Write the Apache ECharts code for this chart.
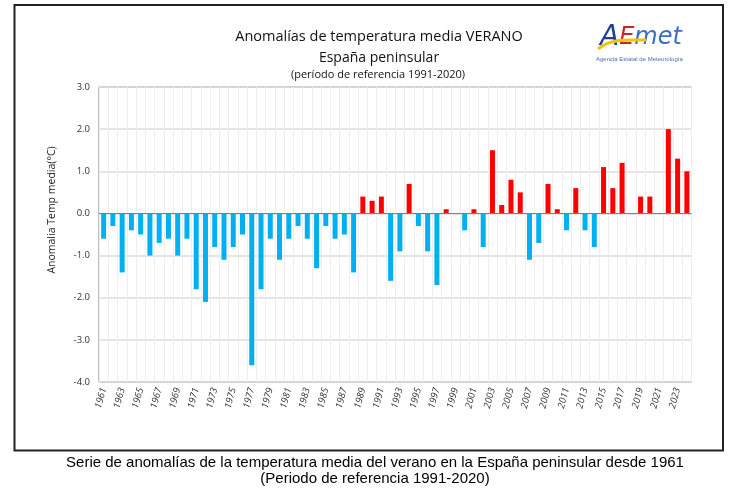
<!DOCTYPE html>
<html>
<head>
<meta charset="utf-8">
<script src="https://cdn.jsdelivr.net/npm/echarts@6/dist/echarts.min.js"></script>
<style>
  html, body { margin: 0; padding: 0; background: #fff; }
  #chart { width: 739px; height: 489px; }
</style>
</head>
<body>
<div id="chart"></div>
<script>
// años de la serie
const years = [
  '1961','1962','1963','1964','1965','1966','1967','1968','1969','1970',
  '1971','1972','1973','1974','1975','1976','1977','1978','1979','1980',
  '1981','1982','1983','1984','1985','1986','1987','1988','1989','1990',
  '1991','1992','1993','1994','1995','1996','1997','1998','1999','2000',
  '2001','2002','2003','2004','2005','2006','2007','2008','2009','2010',
  '2011','2012','2013','2014','2015','2016','2017','2018','2019','2020',
  '2021','2022','2023','2024'
];
// anomalías de temperatura media de verano (°C)
const anomalies = [
  -0.6, -0.3, -1.4, -0.4, -0.5, -1.0, -0.7, -0.6, -1.0, -0.6,
  -1.8, -2.1, -0.8, -1.1, -0.8, -0.5, -3.6, -1.8, -0.6, -1.1,
  -0.6, -0.3, -0.6, -1.3, -0.3, -0.6, -0.5, -1.4,  0.4,  0.3,
   0.4, -1.6, -0.9,  0.7, -0.3, -0.9, -1.7,  0.1,  0.0, -0.4,
   0.1, -0.8,  1.5,  0.2,  0.8,  0.5, -1.1, -0.7,  0.7,  0.1,
  -0.4,  0.6, -0.4, -0.8,  1.1,  0.6,  1.2,  0.0,  0.4,  0.4,
   0.0,  2.0,  1.3,  1.0
];
const yTicks = { min: -4, max: 3, step: 1 };

const chart = echarts.init(document.getElementById('chart'));
const font = '"Open Sans", "Noto Sans", sans-serif';
const arial = '"Liberation Sans", Arial, sans-serif';

chart.setOption({
  animation: false,
  backgroundColor: '#fff',
  title: [
    {
      text: 'Anomalías de temperatura media VERANO',
      left: 374, top: 24, textAlign: 'center',
      textStyle: { fontFamily: font, fontSize: 14.5, fontWeight: 'normal', color: '#111' }
    },
    {
      text: 'España peninsular',
      left: 374, top: 46, textAlign: 'center',
      textStyle: { fontFamily: font, fontSize: 14, fontWeight: 'normal', color: '#111' }
    },
    {
      text: '(período de referencia 1991-2020)',
      left: 373, top: 64, textAlign: 'center',
      textStyle: { fontFamily: font, fontSize: 11, fontWeight: 'normal', color: '#111' }
    },
    {
      text: 'Serie de anomalías de la temperatura media del verano en la España peninsular desde 1961',
      left: 370, top: 450, textAlign: 'center',
      textStyle: { fontFamily: arial, fontSize: 15, fontWeight: 'normal', color: '#000' }
    },
    {
      text: '(Periodo de referencia 1991-2020)',
      left: 370, top: 466, textAlign: 'center',
      textStyle: { fontFamily: arial, fontSize: 15, fontWeight: 'normal', color: '#000' }
    }
  ],
  graphic: [
    {
      type: 'rect', silent: true, z: -1,
      shape: { x: 14.5, y: 5, width: 708.5, height: 445.5 },
      style: { fill: 'none', stroke: '#222', lineWidth: 2 }
    },
    {
      type: 'text', x: 600, y: 24,
      style: {
        text: '{a|A}{e|E}{m|met}',
        rich: {
          a: { fontFamily: '"DejaVu Sans"', fontSize: 28, fontWeight: 'lighter', fontStyle: 'italic', fill: '#1f3f99' },
          e: { fontFamily: '"DejaVu Sans"', fontSize: 24, fontStyle: 'italic', fill: '#c8281c' },
          m: { fontFamily: '"DejaVu Sans"', fontSize: 24, fontStyle: 'italic', fill: '#3a6fc4' }
        }
      }
    },
    {
      type: 'bezierCurve',
      shape: { x1: 598, y1: 49, cpx1: 612, cpy1: 38, cpx2: 628, cpy2: 40, x2: 646, y2: 40 },
      style: { stroke: '#f5c400', lineWidth: 3, fill: 'none' }
    },
    {
      type: 'text', x: 596, y: 56,
      style: { text: 'Agencia Estatal de Meteorología', fontFamily: arial, fontSize: 6, fill: '#4a6fb0' }
    },
    {
      type: 'text', x: 52, y: 210, rotation: Math.PI / 2,
      style: {
        text: 'Anomalia Temp media(°C)', align: 'center', verticalAlign: 'middle',
        fontFamily: font, fontSize: 10.5, fill: '#222'
      }
    }
  ],
  grid: {
    left: 99, top: 87, right: 47.5, bottom: 107,
    show: true, borderColor: '#808080', borderWidth: 1
  },
  xAxis: {
    type: 'category',
    data: years,
    axisLine: { show: false },
    axisTick: { show: false },
    splitLine: { show: true, interval: 0, lineStyle: { color: '#eeeeee', width: 1 } },
    axisLabel: {
      interval: 1, rotate: 75, margin: 6,
      fontFamily: font, fontSize: 9.5, color: '#333', fontStyle: 'italic'
    }
  },
  yAxis: {
    type: 'value',
    min: yTicks.min, max: yTicks.max, interval: yTicks.step,
    axisLine: { show: false },
    axisTick: { show: false },
    splitLine: { lineStyle: { color: '#dcdcdc', width: 1.5 } },
    axisLabel: {
      margin: 9, fontFamily: font, fontSize: 9.5, color: '#333',
      formatter: v => v.toFixed(1)
    }
  },
  series: [
    {
      type: 'bar',
      data: anomalies,
      barWidth: 5,
      itemStyle: {
        color: p => (p.value >= 0 ? '#ff0000' : '#00b0f0')
      },
      markLine: {
        silent: true, symbol: 'none', label: { show: false },
        lineStyle: { color: '#808080', type: 'solid', width: 1 },
        data: [{ yAxis: 0 }]
      }
    }
  ]
});
</script>
</body>
</html>
